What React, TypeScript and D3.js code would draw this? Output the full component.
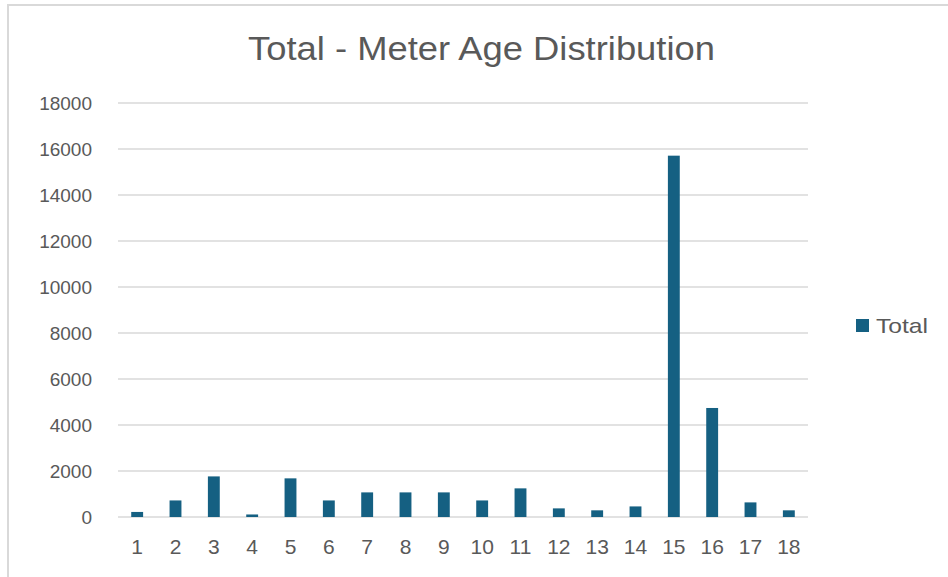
import React from "react";
import * as d3 from "d3";

const categories = ["1","2","3","4","5","6","7","8","9","10","11","12","13","14","15","16","17","18"];
const totals = [220, 720, 1765, 110, 1680, 720, 1070, 1070, 1070, 720, 1245, 375, 290, 460, 15710, 4740, 635, 290];
const yTicks = [0, 2000, 4000, 6000, 8000, 10000, 12000, 14000, 16000, 18000];
const seriesName = "Total";
const chartTitle = "Total - Meter Age Distribution";

const W = 948, H = 577;
const plot = { left: 118, right: 808, top: 103, bottom: 517 };
const font = "'Liberation Sans', Arial, sans-serif";
const textColor = "#595959";
const barColor = "#156082";

export default function App() {
  const x = d3.scaleBand<string>().domain(categories).range([plot.left, plot.right]).paddingInner(0).paddingOuter(0);
  const y = d3.scaleLinear().domain([0, 18000]).range([plot.bottom, plot.top]);
  const barW = x.bandwidth() * 0.31;
  return (
    <svg width={W} height={H} style={{ position: "absolute", left: 0, top: 0, background: "#fff" }}>
      <rect x={0} y={0} width={W} height={H} fill="#fff" />
      <line x1={8} y1={5} x2={W} y2={5} stroke="#d9d9d9" strokeWidth={2} />
      <line x1={8} y1={4} x2={8} y2={H} stroke="#d9d9d9" strokeWidth={2} />
      <text x={481.5} y={60} textAnchor="middle" fontFamily={font} fontSize={33} fill={textColor} textLength={467} lengthAdjust="spacingAndGlyphs">{chartTitle}</text>
      {yTicks.map(t => (
        <g key={t}>
          <line x1={plot.left} x2={plot.right} y1={y(t)} y2={y(t)} stroke="#d9d9d9" strokeWidth={1.3} />
          <text x={92} y={y(t)} dy="0.36em" textAnchor="end" fontFamily={font} fontSize={19} fill={textColor}>{t}</text>
        </g>
      ))}
      {categories.map((c, i) => (
        <g key={c}>
          <rect x={(x(c) as number) + x.bandwidth() / 2 - barW / 2} y={y(totals[i])} width={barW} height={y(0) - y(totals[i])} fill={barColor} />
          <text x={(x(c) as number) + x.bandwidth() / 2} y={554} textAnchor="middle" fontFamily={font} fontSize={21} fill={textColor}>{c}</text>
        </g>
      ))}
      <rect x={856} y={319} width={13} height={13} fill={barColor} />
      <text x={876} y={333} fontFamily={font} fontSize={21} fill={textColor} textLength={52} lengthAdjust="spacingAndGlyphs">{seriesName}</text>
    </svg>
  );
}
